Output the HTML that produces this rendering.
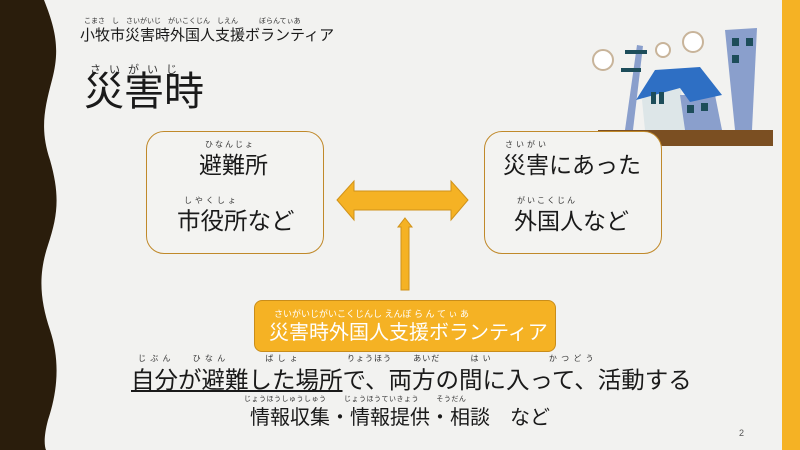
<!DOCTYPE html>
<html><head><meta charset="utf-8"><style>
body{margin:0;width:800px;height:450px;overflow:hidden;background:#f2f2f0;font-family:"Liberation Sans","Noto Sans CJK JP",sans-serif;color:#1a1a1a;position:relative}
.a{position:absolute;white-space:nowrap}
.r{position:absolute;font-size:8px;color:#333;white-space:nowrap}
.box{position:absolute;border:1.5px solid #c0892a;border-radius:18px;background:#f3f3f1}
</style></head><body>
<svg class="a" style="left:0;top:0" width="800" height="450">
<path d="M0 0 H44 C56 30,60 50,52 80 C44 110,40 130,50 160 C60 195,58 215,48 245 C38 275,40 300,50 330 C60 360,58 390,48 420 C44 435,44 445,46 450 H0Z" fill="#2a1d0c"/>
<rect x="782" y="0" width="18" height="450" fill="#f5b224"/>
<rect x="598" y="130" width="175" height="16" fill="#7b4f22"/>
<path d="M625 130 L637 45 L643 46 L633 130Z" fill="#8a9fcc"/>
<rect x="625" y="50" width="22" height="4" fill="#1d4d5a"/><rect x="621" y="68" width="20" height="4" fill="#1d4d5a"/>
<path d="M725 30 L757 28 L752 130 L735 130Z" fill="#8a9fcc"/>
<rect x="732" y="38" width="7" height="8" fill="#1d4d5a"/><rect x="746" y="38" width="7" height="8" fill="#1d4d5a"/><rect x="732" y="55" width="7" height="8" fill="#1d4d5a"/>
<path d="M642 100 L658 72 L680 80 L685 130 L645 130Z" fill="#dde6e8"/>
<path d="M680 95 L715 95 L722 130 L685 130Z" fill="#8a9fcc"/>
<path d="M636 100 L655 70 L700 67 L722 95 L690 102 L680 88Z" fill="#2e6fc4"/>
<rect x="651" y="92" width="5" height="12" fill="#1d4d5a"/><rect x="659" y="92" width="5" height="12" fill="#1d4d5a"/>
<rect x="687" y="105" width="7" height="8" fill="#1d4d5a"/><rect x="701" y="103" width="7" height="8" fill="#1d4d5a"/>
<circle cx="603" cy="60" r="10" fill="#fff" stroke="#c8b49a" stroke-width="2"/>
<circle cx="663" cy="50" r="7" fill="#fff" stroke="#c8b49a" stroke-width="2"/>
<circle cx="693" cy="42" r="10" fill="#fff" stroke="#c8b49a" stroke-width="2"/>
<path d="M337 200 L354 181 L354 191 L451 191 L451 181 L468 200 L451 220 L451 210 L354 210 L354 220Z" fill="#f5b224" stroke="#d0921a" stroke-width="1"/>
<path d="M405 218 L412 227 L409 227 L409 290 L401 290 L401 227 L398 227Z" fill="#f5b224" stroke="#d0921a" stroke-width="1"/>
</svg>
<div class="r" style="left:84px;top:16px;font-size:7px">こまさ　し　さいがいじ　がいこくじん　しえん　　　ぼらんてぃあ</div>
<div class="a" style="left:80px;top:24px;font-size:15px">小牧市災害時外国人支援ボランティア</div>
<div class="r" style="left:90px;top:61px;font-size:11px;letter-spacing:8px">さいがいじ</div>
<div class="a" style="left:84px;top:68px;font-size:40px;line-height:48px">災害時</div>
<div class="box" style="left:146px;top:131px;width:176px;height:121px"></div>
<div class="box" style="left:484px;top:131px;width:176px;height:121px"></div>
<div class="r" style="left:205px;top:139px;letter-spacing:2px">ひなんじょ</div>
<div class="a" style="left:199px;top:146px;font-size:23px">避難所</div>
<div class="r" style="left:184px;top:195px;letter-spacing:3px">しやくしょ</div>
<div class="a" style="left:177px;top:202px;font-size:23.5px">市役所など</div>
<div class="r" style="left:505px;top:139px;letter-spacing:3px">さいがい</div>
<div class="a" style="left:503px;top:146px;font-size:23px">災害にあった</div>
<div class="r" style="left:517px;top:195px;letter-spacing:2px">がいこくじん</div>
<div class="a" style="left:514px;top:202px;font-size:23px">外国人など</div>
<div class="a" style="left:254px;top:300px;width:300px;height:50px;background:#f5b224;border:1px solid #c98d1a;border-radius:8px"></div>
<div class="r" style="left:274px;top:307px;color:#fff;font-size:9px">さいがいじがいこくじんし えんぼ ら ん て ぃ あ</div>
<div class="a" style="left:269px;top:316px;font-size:20px;color:#fff">災害時外国人支援ボランティア</div>
<div class="r" style="left:138px;top:353px;letter-spacing:1px">じ ぶ ん　　 ひ な ん　　　　 ば し ょ　　　　　 りょうほう　　 あいだ　　　 は い　　　　　　 か つ ど う</div>
<div class="a" style="left:131px;top:361px;font-size:23.5px"><span style="text-decoration:underline">自分が避難した場所</span>で、両方の間に入って、活動する</div>
<div class="r" style="left:244px;top:394px;font-size:7px;letter-spacing:0.5px">じょうほうしゅうしゅう　　 じょうほうていきょう　　 そうだん</div>
<div class="a" style="left:250px;top:401px;font-size:20px">情報収集・情報提供・相談　など</div>
<div class="a" style="left:739px;top:428px;font-size:9px;color:#555">2</div>
</body></html>
